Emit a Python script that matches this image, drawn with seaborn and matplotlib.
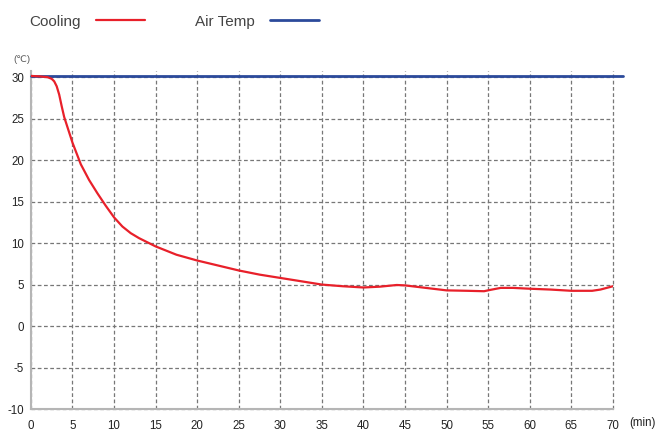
import pandas as pd
import matplotlib
matplotlib.use('Agg')
import matplotlib.pyplot as plt
import seaborn as sns

# cooling curve (minutes, deg C)
time_min = [0, 1, 2, 2.5, 2.8, 3.1, 3.4, 3.7, 4, 5, 6, 7, 8, 9, 10, 11, 12, 13,
            14, 15, 17.5, 20, 22.5, 25, 27.5, 30, 32.5, 35, 37.5, 40, 42, 44,
            45, 47.5, 50, 52.5, 54.5, 55.2, 56.5, 58, 60, 62.5, 65, 67.5, 68.5, 70]
cooling = [30.15, 30.1, 30.0, 29.8, 29.5, 28.9, 27.9, 26.5, 25.2, 22.1, 19.5,
           17.6, 16.0, 14.5, 13.1, 12.0, 11.2, 10.6, 10.1, 9.6, 8.6, 7.9, 7.3,
           6.7, 6.2, 5.8, 5.4, 5.0, 4.8, 4.65, 4.75, 4.95, 4.9, 4.6, 4.3, 4.25,
           4.2, 4.35, 4.6, 4.6, 4.5, 4.4, 4.25, 4.25, 4.4, 4.8]

air_time = [0, 71.2]
air_temp = [30.2, 30.2]

x_ticks = list(range(0, 75, 5))
y_ticks = list(range(-10, 35, 5))

cool_df = pd.DataFrame({'t': time_min, 'v': cooling})
air_df = pd.DataFrame({'t': air_time, 'v': air_temp})

sns.set_style('white')
plt.rcParams['font.family'] = ['Liberation Sans', 'DejaVu Sans']
plt.rcParams['axes.unicode_minus'] = False

fig = plt.figure(figsize=(6.58, 4.32), dpi=100)
ax = fig.add_axes([0.047, 0.0532, 0.8845, 0.7835])

sns.lineplot(data=air_df, x='t', y='v', ax=ax, color='#2b4a9b', linewidth=2.0,
             label='Air Temp', clip_on=False, zorder=4)
sns.lineplot(data=cool_df, x='t', y='v', ax=ax, color='#e8202a', linewidth=1.6,
             label='Cooling', zorder=5)

ax.set_xlim(0, 70)
ax.set_ylim(-10, 30.8)
ax.set_xticks(x_ticks)
ax.set_yticks(y_ticks)
ax.set_xlabel('')
ax.set_ylabel('')
ax.tick_params(axis='both', length=0, labelsize=8.3, colors='#222222')
ax.tick_params(axis='x', pad=8)
ax.tick_params(axis='y', pad=5)

ax.grid(True, linestyle=(0, (3, 2)), color='#777777', linewidth=0.9)
for gl in ax.get_xgridlines() + ax.get_ygridlines():
    gl.set_clip_on(False)
for s in ['top', 'right']:
    ax.spines[s].set_visible(False)
for s in ['left', 'bottom']:
    ax.spines[s].set_color('#b5b5b5')
    ax.spines[s].set_linewidth(1.5)
    ax.spines[s].set_zorder(3)

fig.text(0.0198, 0.857, '(\u2103)', fontsize=6.8, color='#555555',
         family=['Liberation Sans', 'DejaVu Sans'])
fig.text(0.977, 0.0135, '(min)', fontsize=8.3, color='#222222', ha='center')

handles, labels = ax.get_legend_handles_labels()
order = [labels.index('Cooling'), labels.index('Air Temp')]
leg = fig.legend([handles[i] for i in order], [labels[i] for i in order],
                 loc='upper left', bbox_to_anchor=(0.023, 0.998), ncol=2,
                 frameon=False, markerfirst=False, fontsize=11,
                 handlelength=3.2, handletextpad=1.0, columnspacing=3.3)
for t in leg.get_texts():
    t.set_color('#444444')
if ax.get_legend() is not None:
    ax.get_legend().remove()

fig.savefig('out.png', dpi=100)
